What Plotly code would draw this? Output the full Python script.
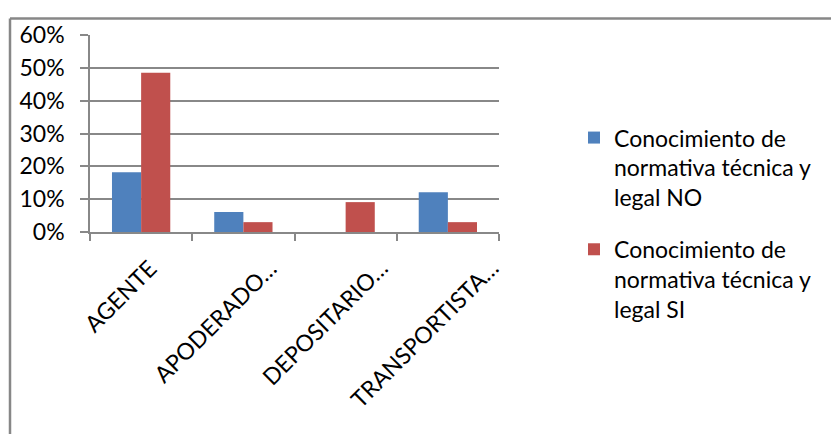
import plotly.graph_objects as go

categories = ["AGENTE", "APODERADO…", "DEPOSITARIO…", "TRANSPORTISTA…"]
series_no_name = "Conocimiento de<br>normativa técnica y<br>legal NO"
series_si_name = "Conocimiento de<br>normativa técnica y<br>legal SI"
values_no = [0.182, 0.061, 0.0, 0.121]
values_si = [0.485, 0.030, 0.091, 0.030]
y_ticks = [0, 0.1, 0.2, 0.3, 0.4, 0.5, 0.6]

FONT = "Lato"
FS = 23
GRID = "#888888"

fig = go.Figure()
fig.add_trace(go.Bar(x=categories, y=values_no, name=series_no_name, legendgroup="no",
                     marker=dict(color="#4F81BD", line=dict(width=0))))
fig.add_trace(go.Bar(x=categories, y=values_si, name=series_si_name, legendgroup="si",
                     marker=dict(color="#C0504D", line=dict(width=0))))

W, H = 831, 426
L, R, T, B = 82, 340, 20, 202
pw, ph = W - L - R, H - T - B

def px_to_paper_x(px):
    return (px - L) / pw

def px_to_paper_y(py):
    return (H - B - py) / ph

# rotated category labels (Excel-like placement: longer labels sit further right)
annotations = []
for cat in categories:
    annotations.append(dict(
        x=cat, y=0, xref="x", yref="y", text=cat, showarrow=False,
        textangle=-45, xanchor="right", yanchor="top",
        xshift=4.5 * len(cat) - 11 + 7, yshift=-19,
        font=dict(family=FONT, size=FS, color="black")))

fig.update_layout(
    width=W, height=H,
    margin=dict(l=L, r=R, t=T, b=B),
    paper_bgcolor="white", plot_bgcolor="white",
    font=dict(family=FONT, size=FS, color="black"),
    barmode="group", bargap=0.43, bargroupgap=0.0,
    showlegend=True,
    legend=dict(x=px_to_paper_x(566), y=px_to_paper_y(104), xanchor="left", yanchor="top",
                font=dict(family=FONT, size=FS, color="black"),
                valign="top", tracegroupgap=19, itemwidth=30, traceorder="grouped",
                maxheight=400, bgcolor="rgba(0,0,0,0)"),
    xaxis=dict(range=[-0.5, len(categories) - 0.5], autorange=False,
               showline=True, linecolor=GRID, linewidth=1.5,
               ticks="outside", tickson="boundaries", ticklen=7, tickcolor=GRID, tickwidth=1.5,
               showticklabels=False, showgrid=False),
    yaxis=dict(range=[0, 0.6], autorange=False, tickvals=y_ticks, tickformat=".0%",
               showline=True, linecolor=GRID, linewidth=1.5,
               ticks="outside", ticklen=8, tickcolor=GRID, tickwidth=1.5,
               ticklabelstandoff=11,
               showgrid=True, gridcolor=GRID, gridwidth=1.5, zeroline=False,
               tickfont=dict(family=FONT, size=FS)),
    annotations=annotations,
    shapes=[
        dict(type="line", xref="paper", yref="paper",
             x0=px_to_paper_x(2), x1=px_to_paper_x(845),
             y0=px_to_paper_y(3), y1=px_to_paper_y(3),
             line=dict(color="#878787", width=2.5)),
        dict(type="line", xref="paper", yref="paper",
             x0=px_to_paper_x(2), x1=px_to_paper_x(2),
             y0=px_to_paper_y(3), y1=px_to_paper_y(440),
             line=dict(color="#878787", width=2.5)),
    ],
)

fig.write_html("out.html")
